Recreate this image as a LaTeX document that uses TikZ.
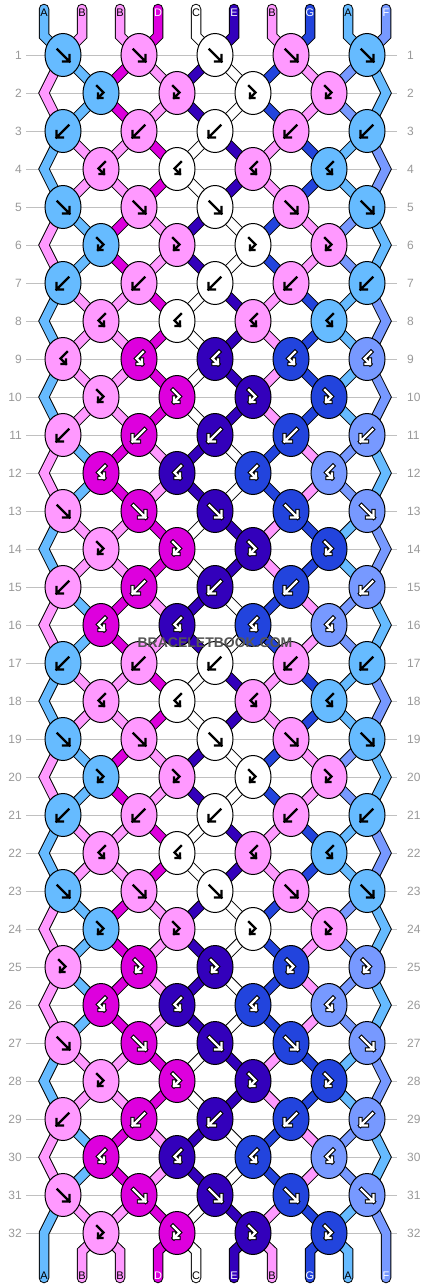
\documentclass[tikz,border=0pt]{standalone}
\usepackage{fontspec}
\setmainfont{Liberation Sans}
\usetikzlibrary{shapes.geometric}
\pgfdeclarelayer{back}
\pgfdeclarelayer{strands}
\pgfsetlayers{back,strands,main}

\definecolor{c1}{HTML}{66BBFF}
\definecolor{c2}{HTML}{FF99FF}
\definecolor{c3}{HTML}{FFFFFF}
\definecolor{c4}{HTML}{DD00DD}
\definecolor{c5}{HTML}{3300BB}
\definecolor{c6}{HTML}{2244DD}
\definecolor{c7}{HTML}{7799FF}
\definecolor{rowgray}{HTML}{999999}
\definecolor{linegray}{HTML}{C0C0C0}
\definecolor{wmgray}{HTML}{555555}

% string orders: S0 (index 0-9) and S1 (index 10-19); 1=A 2=B 3=C 4=D 5=E 6=G 7=F
\def\SS{{1,2,2,4,3,5,2,6,1,7,2,1,4,2,5,3,6,2,7,1}}
% order entering each row (index = row, 0 unused, 33 = after last row)
\def\Ent{{0,0,1,1,0,0,1,1,0,0,0,0,1,1,0,0,1,1,0,0,1,1,0,0,1,1,1,1,0,0,1,1,0,0}}
% knot type per row: 1=f 2=b 3=fb 4=bf
\def\Typ{{0,1,3,2,4,1,3,2,4,4,3,2,4,1,3,2,4,2,4,1,3,2,4,1,3,3,4,1,3,2,4,1,3}}

\tikzset{
  knot/.style={ellipse, draw=black, line width=1, minimum width=36, minimum height=43, inner sep=0},
  strandout/.style={draw=black, line width=10.5, line join=miter, line cap=round},
  strand/.style={line width=8.5, line join=miter, line cap=round},
  rowline/.style={draw=linegray, line width=1},
  rownum/.style={text=rowgray, font=\fontsize{12}{12}\selectfont, inner sep=0},
  lab/.style={font=\fontsize{11}{11}\selectfont, inner sep=0},
  gl/.style={black, line width=2.4},
  pics/g1/.style={code={\draw[gl] (-5.5,-5.5)--(6.5,6.5) (6.5,0)--(6.5,6.5)--(0,6.5);}},
  pics/g2/.style={code={\draw[gl] (5.5,-5.5)--(-6.5,6.5) (-6.5,0)--(-6.5,6.5)--(0,6.5);}},
  pics/g3/.style={code={\draw[gl] (-4,-7)--(2.5,-0.5)--(-3,5) (-3,0.5)--(-3,5)--(1.5,5);}},
  pics/g4/.style={code={\draw[gl] (4,-7)--(-2.5,-0.5)--(3,5) (3,0.5)--(3,5)--(-1.5,5);}},
}

\begin{document}
\begin{tikzpicture}[x=1pt,y=-1pt]
\useasboundingbox (0,0) rectangle (430,1288);

\begin{pgfonlayer}{back}
\fill[white] (0,0) rectangle (430,1288);
\foreach \r in {1,...,32}{
  \pgfmathsetmacro\yy{17+38*\r}
  \draw[rowline] (26,\yy) -- (397,\yy);
  \node[rownum, anchor=east] (nl-\r) at (22,\yy) {\r};
  \node[rownum, anchor=west] (nr-\r) at (407,\yy) {\r};
}
\end{pgfonlayer}

% end points of the strings
\foreach \p in {1,...,10}{
  \coordinate (T-\p) at (6+38*\p, 9);
  \coordinate (P-0-\p) at (6+38*\p, 36);
  \coordinate (P-33-\p) at (6+38*\p, 1251);
  \coordinate (B-\p) at (6+38*\p, 1278);
}

% knots
\foreach \r in {1,...,32}{
  \pgfmathtruncatemacro\odd{mod(\r,2)}
  \pgfmathtruncatemacro\st{\Ent[\r]}
  \pgfmathtruncatemacro\ty{\Typ[\r]}
  \pgfmathtruncatemacro\rt{(\ty==2)||(\ty==4)}
  \pgfmathsetmacro\yy{17+38*\r}
  \ifnum\odd=1
    \def\nk{5}\def\xo{-13}\def\po{-1}
  \else
    \def\nk{4}\def\xo{25}\def\po{0}
    \coordinate (P-\r-1) at (44,\yy);
    \coordinate (P-\r-10) at (386,\yy);
  \fi
  \foreach \k in {1,...,\nk}{
    \pgfmathtruncatemacro\pa{2*\k+\po}
    \pgfmathtruncatemacro\pb{\pa+1}
    \pgfmathtruncatemacro\ci{\SS[\st*10+\pa-1+\rt]}
    \node[knot, fill=c\ci] (k-\r-\k) at (\xo+76*\k,\yy) {};
    \coordinate (P-\r-\pa) at (k-\r-\k.center);
    \coordinate (P-\r-\pb) at (k-\r-\k.center);
    \ifnum\ci>3
      \edef\tmp{\noexpand\pic[gl/.style={black,line width=4.4,line cap=rect,line join=miter}] at (k-\r-\k.center) {g\ty};
        \noexpand\pic[gl/.style={white,line width=2.2,line cap=rect,line join=miter}] at (k-\r-\k.center) {g\ty};}\tmp
    \else
      \edef\tmp{\noexpand\pic[gl/.style={black,line width=2.4,line cap=rect,line join=miter}] at (k-\r-\k.center) {g\ty};}\tmp
    \fi
  }
}

% strings
\begin{pgfonlayer}{strands}
\foreach \p in {1,...,10}{
  \draw[strandout] (T-\p) -- (P-0-\p) \foreach \r in {1,...,33}{ -- (P-\r-\p)} -- (B-\p);
}
\foreach \p in {1,...,10}{
  \pgfmathtruncatemacro\ci{\SS[\p-1]}
  \draw[strand, draw=c\ci] (T-\p) -- (P-0-\p) -- (P-1-\p);
  \foreach \r in {2,4,...,30}{
    \pgfmathtruncatemacro\ra{\r-1}
    \pgfmathtruncatemacro\rb{\r+1}
    \pgfmathtruncatemacro\st{\Ent[\r]}
    \pgfmathtruncatemacro\cj{\SS[\st*10+\p-1]}
    \draw[strand, draw=c\cj] (P-\ra-\p) -- (P-\r-\p) -- (P-\rb-\p);
  }
  \draw[strand, draw=c\ci] (P-31-\p) -- (P-32-\p) -- (P-33-\p) -- (B-\p);
}
\end{pgfonlayer}

% string labels
\foreach \l/\c [count=\p] in {A/1,B/2,B/2,D/4,C/3,E/5,B/2,G/6,A/1,F/7}{
  \ifnum\c>3 \def\tc{white}\else\def\tc{black}\fi
  \node[lab, text=\tc] (lt-\p) at (6+38*\p, 12.5) {\l};
  \node[lab, text=\tc] (lb-\p) at (6+38*\p, 1275.5) {\l};
}

\node[font=\bfseries\fontsize{14}{14}\selectfont, text=wmgray, inner sep=0] (wm) at (215,643) {BRACELETBOOK.COM};
\end{tikzpicture}
\end{document}
